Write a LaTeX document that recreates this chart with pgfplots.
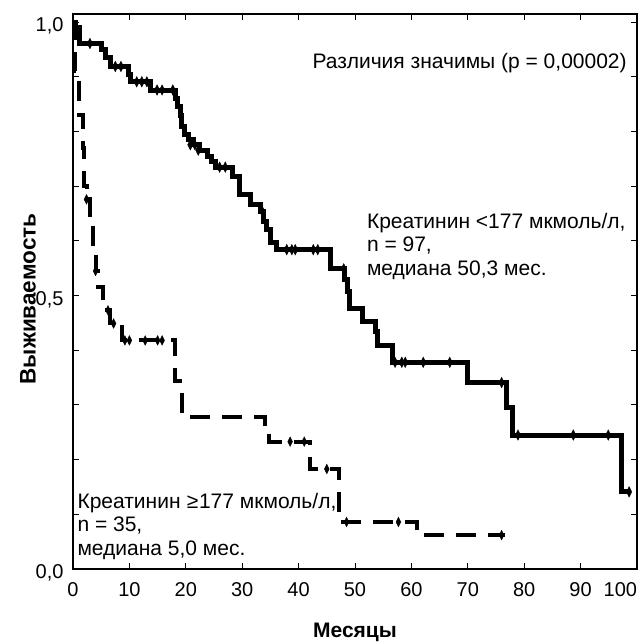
\documentclass[border=0pt]{standalone}
\usepackage{fontspec}
\setmainfont{Liberation Sans}
\usepackage{pgfplots}
\pgfplotsset{compat=1.18}
\newcommand{\geqsym}{\makebox[0.6em][c]{≥}}
\begin{document}
\begin{tikzpicture}[font=\fontsize{21bp}{23.5bp}\selectfont]
\path[use as bounding box] (-73bp,-75bp) rectangle (568bp,569bp);
\begin{axis}[
  at={(0,0)}, anchor=south west,
  scale only axis, width=564bp, height=555bp,
  xmin=0, xmax=100, ymin=0, ymax=1.015,
  xtick={0,10,20,30,40,50,60,70,80,90,100},
  xticklabels={0,10,20,30,40,50,60,70,80,90,\makebox[0pt][r]{100}},
  ytick={0,0.5,1}, yticklabels={{0,0},{0,5},{1,0}},
  minor ytick={0.1,0.2,0.3,0.4,0.6,0.7,0.8,0.9},
  major tick length=6bp, minor tick length=6bp,
  tick style={black, line width=1bp},
  axis line style={line width=1.2bp},
  tick label style={font=\fontsize{20bp}{23bp}\selectfont},
  xticklabel style={yshift=-10bp},
  yticklabel style={yshift=-4bp, xshift=-6bp},
  xlabel={\bfseries Месяцы}, ylabel={\bfseries Выживаемость},
  x label style={at={(axis description cs:0.5,-0.1135)}, anchor=center},
  y label style={at={(axis description cs:-0.0798,0.4865)}, anchor=center, font=\fontsize{22.5bp}{24bp}\selectfont},
  clip=false,
]
% Creatinine < 177
\addplot[const plot, black, line width=5bp] coordinates {
(0,1.0) (0.5,0.99) (1.2,0.961) (5.1,0.95) (5.8,0.935) (6.6,0.919) (9.8,0.905)
(10.2,0.891) (13.7,0.876) (18.1,0.86) (18.5,0.845) (19.0,0.83) (19.3,0.81)
(19.7,0.795) (20.4,0.785) (21.3,0.776) (22.5,0.766) (23.8,0.755) (24.5,0.745)
(25.2,0.735) (28.2,0.718) (29.6,0.685) (31.4,0.667) (33.2,0.653) (33.8,0.635)
(34.3,0.62) (35.0,0.598) (36.0,0.584) (45.6,0.549) (48.2,0.53) (48.6,0.507)
(49.1,0.476) (51.4,0.453) (53.6,0.434) (54.0,0.409) (56.6,0.378) (70.0,0.341)
(76.8,0.295) (78.0,0.245) (97.3,0.141) (98.8,0.141)};
\addplot[only marks, black, mark=diamond*, mark size=3.5bp, mark options={yscale=1.5}] coordinates {
(3.0,0.961) (7.5,0.919) (8.5,0.919) (11.3,0.891) (12.2,0.891) (13.1,0.891)
(14.9,0.876) (15.8,0.876) (17.7,0.876) (20.8,0.776) (21.6,0.776) (22.2,0.766)
(26.0,0.735) (27.0,0.735) (33.6,0.653) (37.9,0.584) (38.8,0.584) (39.4,0.584)
(42.6,0.584) (43.4,0.584) (48.0,0.549) (57.1,0.378) (58.3,0.378) (58.9,0.378)
(62.1,0.378) (66.8,0.378) (76.0,0.341) (78.9,0.245) (88.7,0.245) (94.9,0.245)
(98.6,0.141)};
% Creatinine >= 177
\addplot[const plot, black, line width=4bp, dash pattern=on 20bp off 12bp] coordinates {
(0,1.0) (0.4,0.91) (1.0,0.83) (1.7,0.77) (1.9,0.70) (2.4,0.676) (3.0,0.63)
(3.5,0.57) (4.0,0.545) (4.5,0.516) (5.4,0.473) (6.5,0.449) (8.7,0.418)
(18.1,0.343) (19.4,0.278) (34.0,0.258) (34.8,0.233) (42.0,0.183) (47.2,0.086)
(61.0,0.062) (76.6,0.062)};
\addplot[only marks, black, mark=diamond*, mark size=3.2bp, mark options={yscale=1.5}] coordinates {
(2.4,0.676) (4.0,0.545) (6.2,0.473) (7.2,0.449) (9.2,0.418) (10.0,0.418)
(12.8,0.418) (15.0,0.418) (15.8,0.418) (38.5,0.233) (41.0,0.233) (45.0,0.183)
(48.5,0.086) (57.7,0.086) (76.0,0.062)};
\node[anchor=base east, inner sep=0pt] at (axis cs:98.2,0.916) {Различия значимы (p = 0,00002)};
\node[anchor=base west, inner sep=0pt] at (axis cs:52.1,0.6234) {Креатинин <177 мкмоль/л,};
\node[anchor=base west, inner sep=0pt] at (axis cs:52.1,0.5804) {n = 97,};
\node[anchor=base west, inner sep=0pt] at (axis cs:52.1,0.5375) {медиана 50,3 мес.};
\node[anchor=base west, inner sep=0pt] at (axis cs:0.77,0.1115) {Креатинин \geqsym177 мкмоль/л,};
\node[anchor=base west, inner sep=0pt] at (axis cs:0.77,0.0682) {n = 35,};
\node[anchor=base west, inner sep=0pt] at (axis cs:0.77,0.0256) {медиана 5,0 мес.};
\end{axis}
\end{tikzpicture}
\end{document}
